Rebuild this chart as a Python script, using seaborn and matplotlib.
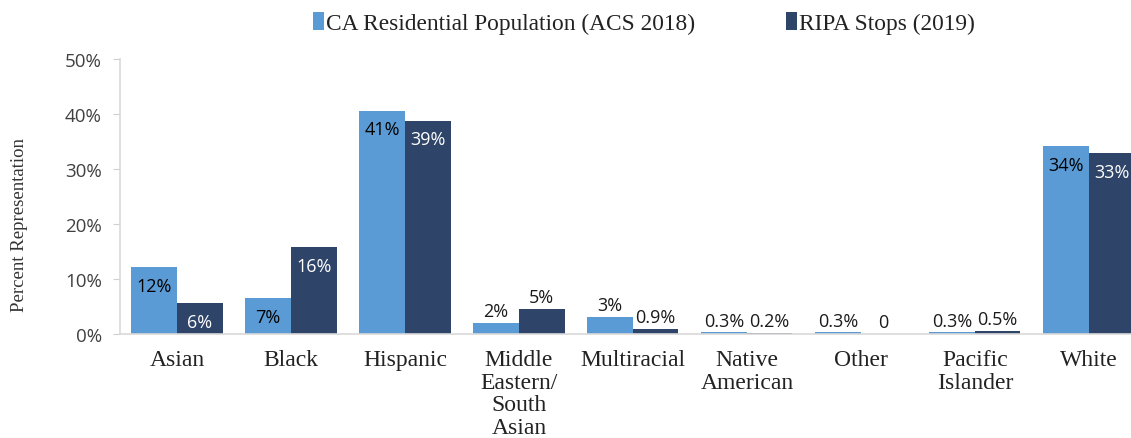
import pandas as pd
import matplotlib
matplotlib.use('Agg')
import matplotlib.pyplot as plt
import seaborn as sns

categories = ['Asian', 'Black', 'Hispanic', 'Middle\nEastern/\nSouth\nAsian', 'Multiracial',
              'Native\nAmerican', 'Other', 'Pacific\nIslander', 'White']
series = ['CA Residential Population (ACS 2018)', 'RIPA Stops (2019)']
acs_values = [12.2, 6.5, 40.6, 2.0, 3.1, 0.3, 0.3, 0.3, 34.2]
ripa_values = [5.6, 15.8, 38.8, 4.5, 0.9, 0.2, 0.0, 0.5, 32.9]
acs_labels = ['12%', '7%', '41%', '2%', '3%', '0.3%', '0.3%', '0.3%', '34%']
ripa_labels = ['6%', '16%', '39%', '5%', '0.9%', '0.2%', '0', '0.5%', '33%']
colors = ['#5B9BD5', '#2E4468']

sns.set_style('white')
serif = ['Liberation Serif', 'DejaVu Serif']
sans = ['Open Sans', 'DejaVu Sans']

df = pd.DataFrame({
    'category': categories * 2,
    'series': [series[0]] * len(categories) + [series[1]] * len(categories),
    'value': acs_values + ripa_values,
})

fig = plt.figure(figsize=(11.31, 4.39), dpi=100)
ax = fig.add_axes([0.1061, 0.2369, 0.907, 0.6264])

sns.barplot(data=df, x='category', y='value', hue='series', order=categories,
            hue_order=series, palette=colors, width=0.8, saturation=1,
            edgecolor='none', linewidth=0, ax=ax)

ax.set_ylim(0, 50)
ax.set_xlim(-0.5, 8.5)
ax.set_yticks([0, 10, 20, 30, 40, 50])
ax.set_yticklabels(['0%', '10%', '20%', '30%', '40%', '50%'], family=sans,
                   fontsize=13.5, color='#404040')
ax.set_xticklabels(categories, family=serif, fontsize=17, color='#222222',
                   linespacing=1.1)
ax.tick_params(axis='x', length=0, pad=11)
ax.tick_params(axis='y', length=5, width=0.8, color='#d0d0d0', left=True, pad=8)
ax.set_xlabel('')
ax.set_ylabel('Percent Representation', family=serif, fontsize=13.5, color='#333333')
ax.yaxis.set_label_coords(-0.09, 0.4)

for side in ['top', 'right']:
    ax.spines[side].set_visible(False)
for side in ['left', 'bottom']:
    ax.spines[side].set_color('#d9d9d9')
    ax.spines[side].set_linewidth(1.2)

# data labels: inside the top of tall bars, above the short ones
for container, labels, inner_color in zip(ax.containers, [acs_labels, ripa_labels], ['black', 'white']):
    for bar, text in zip(container, labels):
        h = bar.get_height()
        x = bar.get_x() + bar.get_width() / 2
        if h > 5.5:
            ax.annotate(text, (x, h), xytext=(0, -13.5), textcoords='offset points',
                        ha='center', va='center', family=sans, fontsize=13,
                        color=inner_color)
        else:
            ax.annotate(text, (x, h), xytext=(0, 8.5), textcoords='offset points',
                        ha='center', va='center', family=sans, fontsize=13,
                        color='#1a1a1a')

ax.legend(loc='center', bbox_to_anchor=(0.511, 1.13), ncol=2, frameon=False,
          prop={'family': serif, 'size': 16.8}, handlelength=0.45, handleheight=0.75,
          handletextpad=0.1, columnspacing=3.9, labelcolor='#222222')

fig.savefig('out.png', dpi=100)
